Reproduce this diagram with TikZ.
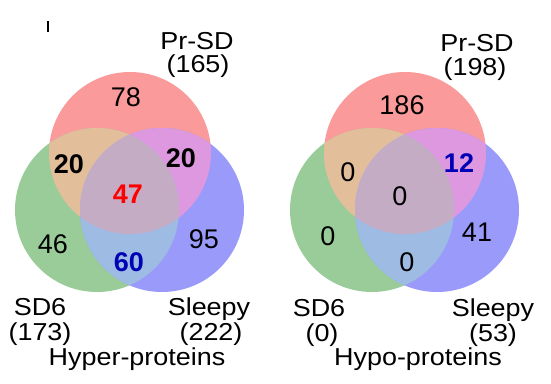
\documentclass[tikz,border=0pt]{standalone}
\usepackage{fontspec}
\setmainfont{Liberation Sans}
\usepackage{graphicx}
\definecolor{ronly}{HTML}{FA9A9A}
\definecolor{gonly}{HTML}{9ACC9A}
\definecolor{bonly}{HTML}{9A9AFA}
\definecolor{rgcol}{HTML}{E3BE9B}
\definecolor{rbcol}{HTML}{DD98E0}
\definecolor{gbcol}{HTML}{9DBBE3}
\definecolor{rgbcol}{HTML}{C5ACC5}
\definecolor{numred}{HTML}{FF0000}
\definecolor{numblue}{HTML}{0000B4}
\newcommand\labsx[1]{\scalebox{1.1}[1]{#1}}
\newcommand\vennbg[1]{%
\begin{scope}[xshift=#1]
\fill[ronly] (130,153) circle[radius=81];
\fill[gonly] (97,210) circle[radius=82];
\fill[bonly] (162,210) circle[radius=82];
\begin{scope}\clip (130,153) circle[radius=81]; \fill[rgcol] (97,210) circle[radius=82];\end{scope}
\begin{scope}\clip (130,153) circle[radius=81]; \fill[rbcol] (162,210) circle[radius=82];\end{scope}
\begin{scope}\clip (97,210) circle[radius=82]; \fill[gbcol] (162,210) circle[radius=82];\end{scope}
\begin{scope}\clip (130,153) circle[radius=81]; \clip (97,210) circle[radius=82]; \fill[rgbcol] (162,210) circle[radius=82];\end{scope}
\end{scope}}
\begin{document}
\begin{tikzpicture}[x=1pt,y=-1pt,
  lab/.style={anchor=base,inner sep=0pt,font=\fontsize{24.5}{28}\selectfont},
  num/.style={inner sep=0pt,font=\fontsize{27}{30}\selectfont},
  bnum/.style={num,font=\fontsize{27}{30}\selectfont\bfseries}]
\useasboundingbox[fill=white] (0,0) rectangle (551,383);
\vennbg{0pt}
\vennbg{275pt}
\coordinate (tickA) at (48,21);
\coordinate (tickB) at (48,32);
\draw[line width=1.3pt] (tickA) -- (tickB);
% left diagram
\node[lab] (lprsd) at (197,49) {\labsx{Pr-SD}};
\node[lab] (lprn) at (198,72) {\labsx{(165)}};
\node[lab] (lsd) at (40,315) {\labsx{SD6}};
\node[lab] (lsdn) at (40,340) {\labsx{(173)}};
\node[lab] (lsl) at (209,315) {\labsx{Sleepy}};
\node[lab] (lsln) at (211,340) {\labsx{(222)}};
\node[lab] (lti) at (137,365) {\labsx{Hyper-proteins}};
\node[num] (l78) at (126,97) {78};
\node[bnum] (l20a) at (69,164) {20};
\node[bnum] (l20b) at (181,158) {20};
\node[bnum,text=numred] (l47) at (128,194) {47};
\node[num] (l46) at (53,244) {46};
\node[num] (l95) at (204,239) {95};
\node[bnum,text=numblue] (l60) at (129,262) {60};
% right diagram
\node[lab] (rprsd) at (477,51) {\labsx{Pr-SD}};
\node[lab] (rprn) at (475,75) {\labsx{(198)}};
\node[lab] (rsd) at (319,316) {\labsx{SD6}};
\node[lab] (rsdn) at (322,341) {\labsx{(0)}};
\node[lab] (rsl) at (493,316) {\labsx{Sleepy}};
\node[lab] (rsln) at (493,341) {\labsx{(53)}};
\node[lab] (rti) at (418,365) {\labsx{Hypo-proteins}};
\node[num] (r186) at (402,105) {186};
\node[num] (r0a) at (348,172) {0};
\node[bnum,text=numblue] (r12) at (459,163) {12};
\node[num] (r0b) at (400,196) {0};
\node[num] (r0c) at (328,236) {0};
\node[num] (r41) at (477,232) {41};
\node[num] (r0d) at (407,262) {0};
\end{tikzpicture}
\end{document}
